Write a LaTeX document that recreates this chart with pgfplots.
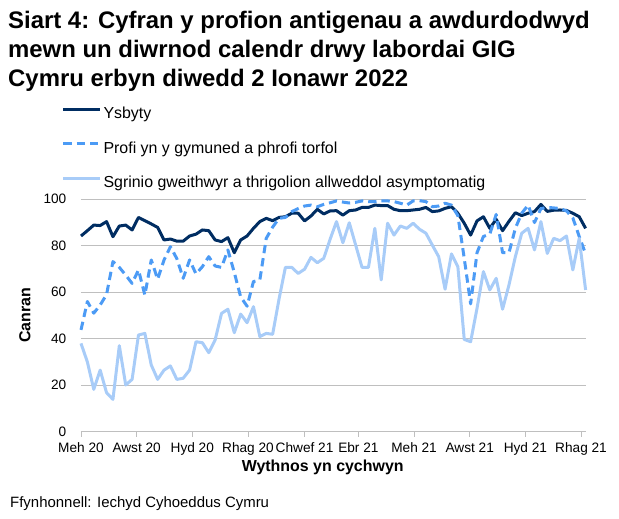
\documentclass[border=0pt]{standalone}
\usepackage{fontspec}
\setmainfont{Liberation Sans}
\usepackage{pgfplots}
\pgfplotsset{compat=1.18}
\usepackage{pgfplotstable}
\definecolor{cDark}{HTML}{002D62}
\definecolor{cMid}{HTML}{4C9BF5}
\definecolor{cLight}{HTML}{A8CCF8}
\definecolor{cGrid}{HTML}{BFBFBF}

\pgfplotstableread{
d a b c
0 84.2 43.8 38
7 86.5 56 30
14 88.9 51 18.2
21 88.7 54.5 26.5
28 90.4 59 16.8
35 83.9 73.2 13.9
42 88.5 70.7 37
49 88.9 67.4 20.1
56 86.8 63.8 22.5
63 92.2 69.6 41.6
70 90.8 58.8 42.3
77 89.4 73.9 28.7
84 87.9 65.6 22.5
91 82.5 73.9 26.5
98 82.9 79.6 28.3
105 82 74.5 22.5
112 82 66 23
119 84.2 73.9 26.5
126 85 67.9 38.7
133 86.8 71 38.3
140 86.5 75.3 34
147 82.5 71.3 39.5
154 81.8 70.7 50.9
161 83.5 78.2 52.7
168 77 68.5 42.6
175 82.5 58 50.6
182 84.2 54 46.9
189 87.5 64.6 53.8
196 90.4 65.3 40.9
203 91.8 83.2 42.3
210 90.8 88 41.9
217 92.2 91.8 57
224 92.5 92.2 70.7
231 94 94.7 70.7
238 94 96 68.1
245 90.7 97.1 69.9
252 92.8 97.5 75
259 95.7 96.8 72.7
266 93.7 97.8 74.6
273 95 98.5 82.8
280 95.1 99.3 90.4
287 93.2 98.8 81.3
294 95.1 98.4 89.9
301 95.4 98.7 80.3
308 96.5 99.3 70.7
315 96.5 99 70.7
322 97.5 99 87.5
329 97.3 99.3 65.3
336 97.3 99.3 89.7
343 95.7 99 84.6
350 95.1 98.3 88.5
357 95.1 97.5 87.5
364 95.4 99.3 89.7
371 95.7 99.4 87.1
378 96.5 99 85.4
385 94.7 96.8 80.3
392 95 97.1 75.3
399 96.1 98.3 61.3
406 96.8 97.5 76.5
413 94 93 71
420 89.7 74.6 39.7
427 84.6 55 38.7
434 90.7 77 53.1
441 92.5 84 68.9
448 87.5 85 61
455 91.4 93.5 66
462 86.5 77 52.7
469 90.5 77 63.1
476 94.2 87.5 75.3
483 93 94 85.4
490 94 97.5 87.5
497 94.7 90 78.2
504 97.8 96 90.4
511 94.8 96.5 76.7
518 95.3 96.3 83.2
525 95.4 96 82.2
532 95.2 95 84.2
539 94 92 69.6
546 92.5 84 83.2
553 87.5 76.5 61
}\data

\begin{document}
\begin{tikzpicture}[x=1bp,y=1bp]
\useasboundingbox (-81,-87.3) rectangle (538,431.7);
\node[anchor=base west, font=\fontsize{24}{29}\selectfont\bfseries, inner sep=0pt] at (-73,402.7) {Siart 4: Cyfran y profion antigenau a awdurdodwyd};
\node[anchor=base west, font=\fontsize{24}{29}\selectfont\bfseries, inner sep=0pt] at (-73,373.7) {mewn un diwrnod calendr drwy labordai GIG};
\node[anchor=base west, font=\fontsize{24}{29}\selectfont\bfseries, inner sep=0pt] at (-73,344.7) {Cymru erbyn diwedd 2 Ionawr 2022};
\node[anchor=base west, font=\fontsize{15}{18}\selectfont, inner sep=0pt] at (-71,-76.3) {Ffynhonnell: Iechyd Cyhoeddus Cymru};
\begin{axis}[
  at={(0,0)}, anchor=south west,
  scale only axis, width=504.6bp, height=232.4bp,
  xmin=0, xmax=553, ymin=0, ymax=100,
  clip=false,
  xtick={0,61,122,183,245,304,365,426,487,548},
  xticklabels={Meh 20,Awst 20,Hyd 20,Rhag 20,Chwef 21,Ebr 21,Meh 21,Awst 21,Hyd 21,Rhag 21},
  ytick={0,20,...,100},
  ymajorgrids,
  grid style={cGrid, line width=0.75bp},
  axis x line*=bottom, axis y line*=left,
  y axis line style={draw=none},
  x axis line style={cGrid, line width=0.75bp, -},
  xtick align=outside, major tick length=5bp,
  xtick style={cGrid, line width=0.75bp},
  ytick style={draw=none},
  /pgf/number format/assume math mode=true,
  tick label style={font=\fontsize{13.7}{16}\selectfont},
  xticklabel style={inner sep=0pt, anchor=base, yshift=-16bp},
  yticklabel style={inner sep=0pt, anchor=east, xshift=-14.5bp, yshift=0bp},
  xlabel={Wythnos yn cychwyn},
  ylabel={Canran},
  label style={font=\fontsize{16}{19}\selectfont\bfseries},
  xlabel style={at={(axis description cs:0.479,0)}, anchor=center, yshift=-35.3bp},
  ylabel style={at={(axis description cs:-0.111,0.5)}, anchor=center},
  legend cell align=left,
  legend style={at={(axis description cs:-0.0382,1.398)}, anchor=north west,
    draw=none, fill=none, inner sep=0pt, row sep=18.3bp, column sep=2bp,
    font=\fontsize{16}{19}\selectfont,
    nodes={inner sep=0pt, text height=12bp, text depth=4bp}},
  legend image code/.code={\draw[#1] (0bp,5.5bp) -- (36.6bp,5.5bp);},
]
\addplot[cDark, line width=3bp, line join=round] table[x=d, y=a] {\data};
\addlegendentry{Ysbyty}
\addplot[cMid, line width=3bp, line join=round, dash pattern=on 8.3bp off 5bp] table[x=d, y=b] {\data};
\addlegendentry{Profi yn y gymuned a phrofi torfol}
\addplot[cLight, line width=3bp, line join=round] table[x=d, y=c] {\data};
\addlegendentry{Sgrinio gweithwyr a thrigolion allweddol asymptomatig}
\end{axis}
\end{tikzpicture}
\end{document}
